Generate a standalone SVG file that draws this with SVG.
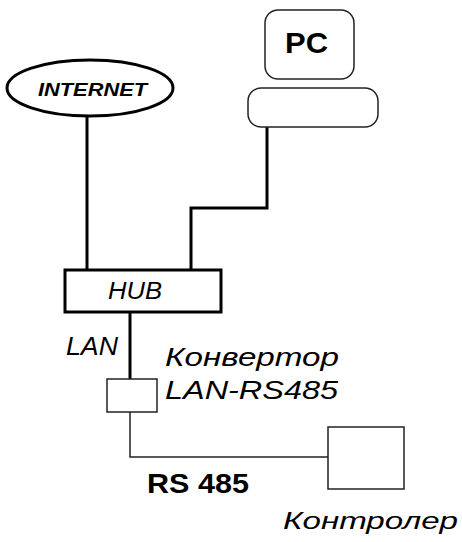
<svg xmlns="http://www.w3.org/2000/svg" width="462" height="542" viewBox="0 0 462 542">
<style>
.thick{fill:none;stroke:#000;stroke-width:3}
.thin{fill:none;stroke:#222;stroke-width:1.5}
.box{fill:#fff;stroke:#000;stroke-width:3}
.tbox{fill:#fff;stroke:#222;stroke-width:1.5}
.t{font-family:"Liberation Sans",Arial,sans-serif;fill:#000}
.it{font-style:italic}
.b{font-weight:bold}
</style>
<rect width="462" height="542" fill="#fff"/>
<g id="connectors">
<polyline class="thick" points="87,117 87,270"/>
<polyline class="thick" points="191,270 191,208 267,208 267,127"/>
<polyline class="thick" points="130,312 130,379"/>
<polyline class="thin" points="130,412 130,457 328,457"/>
</g>
<g id="internet">
<ellipse class="box" cx="90" cy="88" rx="83" ry="28"/>
<text class="t it b" x="38" y="96" font-size="18" textLength="109" lengthAdjust="spacingAndGlyphs">INTERNET</text>
</g>
<g id="pc">
<rect class="tbox" x="265" y="10" width="89" height="69" rx="13"/>
<text class="t b" x="285" y="53" font-size="30" textLength="43" lengthAdjust="spacingAndGlyphs">PC</text>
<rect class="tbox" x="248" y="88" width="130" height="39" rx="13"/>
</g>
<g id="hub">
<rect class="box" x="65" y="270" width="156" height="42"/>
<text class="t it" x="108" y="299" font-size="23" textLength="54" lengthAdjust="spacingAndGlyphs">HUB</text>
</g>
<g id="lan-label">
<text class="t it" x="66" y="355" font-size="25" textLength="52" lengthAdjust="spacingAndGlyphs">LAN</text>
</g>
<g id="converter">
<rect class="tbox" x="107" y="379" width="50" height="33"/>
<text class="t it" x="165" y="366" font-size="26" textLength="174" lengthAdjust="spacingAndGlyphs">Конвертор</text>
<text class="t it" x="165" y="399" font-size="26" textLength="173" lengthAdjust="spacingAndGlyphs">LAN-RS485</text>
</g>
<g id="rs485-label">
<text class="t b" x="147" y="493" font-size="28" textLength="102" lengthAdjust="spacingAndGlyphs">RS 485</text>
</g>
<g id="controller">
<rect class="tbox" x="328" y="427" width="76" height="62"/>
<text class="t it" x="283" y="529" font-size="24" textLength="175" lengthAdjust="spacingAndGlyphs">Контролер</text>
</g>
</svg>
